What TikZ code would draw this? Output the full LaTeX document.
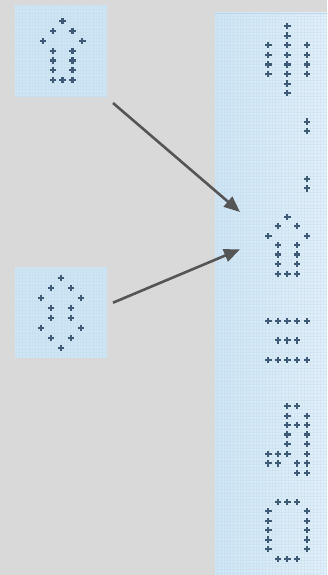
\documentclass[tikz,border=0pt]{standalone}
\usetikzlibrary{arrows.meta}
\definecolor{bggray}{HTML}{D9D9D9}
\definecolor{panelA}{HTML}{CFE5F4}
\definecolor{panelB}{HTML}{E2EFF9}
\definecolor{gridline}{HTML}{B9D6EC}
\definecolor{dotcol}{HTML}{3E5A77}
\definecolor{arrowcol}{HTML}{555555}
\tikzset{
  panel/.style={draw=none, fill=panelA, inner sep=0pt, minimum width=92pt, minimum height=92pt},
  plusmark/.style={draw=dotcol, line width=2.1pt},
  pl/.pic={\draw[plusmark] (-3.2,0)--(3.2,0) (0,-3.2)--(0,3.2);},
  flow/.style={draw=arrowcol, line width=2.6pt, -{Triangle[length=16pt,width=13pt]}},
  texture/.style={draw=gridline, line width=0.3pt, opacity=0.25}
}
\begin{document}
\begin{tikzpicture}[x=1pt,y=-1pt]
  \useasboundingbox (0,0) rectangle (327,575);
  \fill[bggray] (0,0) rectangle (327,575);

  % source tiles
  \node[panel, anchor=north west] (tileA) at (15,5) {};
  \node[panel, anchor=north west, minimum height=91pt] (tileB) at (15,267) {};
  % output strip
  \shade[left color=panelA, right color=panelB] (215,13) rectangle (327,575);
  \node[inner sep=0pt, minimum width=112pt, minimum height=562pt, anchor=north west] (strip) at (215,13) {};
  \draw[gridline, line width=0.8pt] (215,13.4) -- (327,13.4);

  % fine paper texture
  \begin{scope}
    \clip (15,5) rectangle (107,97) (15,267) rectangle (107,358) (215,13) rectangle (327,575);
    \foreach \g in {0,3.2,...,330} \draw[texture] (\g,0) -- (\g,575);
    \foreach \g in {0,3.2,...,575} \draw[texture] (0,\g) -- (327,\g);
  \end{scope}

  % tile A: open arrow glyph
  \foreach \x/\y in {62.5/21, 52.7/31, 72.5/31, 43/41, 82.3/41,
                     52.7/51, 72.5/51, 52.7/60.5, 72.5/60.5, 52.7/70, 72.5/70,
                     52.7/80, 62.5/80, 72.5/80}
    \pic at (\x,\y) {pl};

  % tile B: diamond glyph
  \foreach \x/\y in {61/278, 51/288, 71/288, 41/298, 81/298,
                     51/308, 71/308, 51/318, 71/318, 41/328, 81/328,
                     51/338, 71/338, 61/348}
    \pic at (\x,\y) {pl};

  % strip glyphs
  \def\ca{268.3}\def\cb{277.7}\def\cc{287.3}\def\cd{297.2}\def\ce{306.7}
  \foreach \y in {26,35.7,45.3,55,64.5,74,83.7,93.3} \pic at (\cc,\y) {pl};
  \foreach \y in {45.3,55,64.5,74} {\pic at (\ca,\y) {pl}; \pic at (\ce,\y) {pl};}
  \foreach \y in {121.7,131.2,179,188.4} \pic at (\ce,\y) {pl};
  % arrow glyph
  \pic at (\cc,216.7) {pl};
  \pic at (\cb,226) {pl}; \pic at (\cd,226) {pl};
  \pic at (\ca,235.7) {pl}; \pic at (\ce,235.7) {pl};
  \foreach \y in {245,254.5,264} {\pic at (\cb,\y) {pl}; \pic at (\cd,\y) {pl};}
  \foreach \x in {\cb,\cc,\cd} \pic at (\x,273.7) {pl};
  % bars
  \foreach \x in {\ca,\cb,\cc,\cd,\ce} {\pic at (\x,321) {pl}; \pic at (\x,360) {pl};}
  \foreach \x in {\cb,\cc,\cd} \pic at (\x,340.4) {pl};
  % hooked glyph
  \foreach \x/\y in {\cc/406, \cd/406, \cc/415.7, \ce/415.7,
                     \cc/425, \cd/425, \ce/425, \cc/434.5, \ce/434.5,
                     \cc/444, \ce/444, \ca/453.7, \cb/453.7, \cc/453.7, \ce/453.7,
                     \ca/463.3, \cb/463.3, \cd/463.3, \ce/463.3, \cd/473.2, \ce/473.2}
    \pic at (\x,\y) {pl};
  % ring glyph
  \foreach \x in {\cb,\cc,\cd} {\pic at (\x,501.7) {pl}; \pic at (\x,559) {pl};}
  \foreach \y in {511,520.7,530.2,539.6,549} {\pic at (\ca,\y) {pl}; \pic at (\ce,\y) {pl};}

  % connectors
  \coordinate (fromA) at (113,103);
  \coordinate (fromB) at (113,302.7);
  \coordinate (toA) at (240,212);
  \coordinate (toB) at (240,249.3);
  \draw[flow] (fromA) -- (toA);
  \draw[flow] (fromB) -- (toB);
\end{tikzpicture}
\end{document}
